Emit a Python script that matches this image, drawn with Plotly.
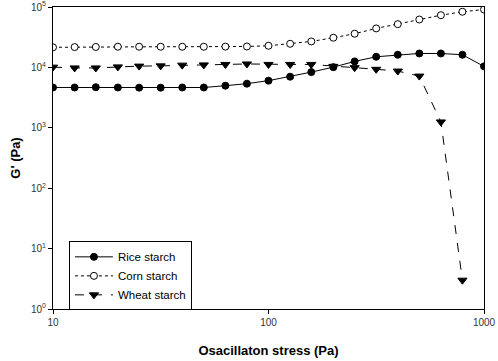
import plotly.graph_objects as go

stress = [10, 12.6, 15.8, 20, 25.1, 31.6, 39.8, 50.1, 63.1, 79.4, 100,
          126, 158, 200, 251, 316, 398, 501, 631, 794, 1000]

rice = [4650, 4650, 4700, 4650, 4620, 4620, 4650, 4650, 4980, 5380, 6030,
        7020, 8360, 10100, 12560, 15000, 16200, 17000, 17000, 16200, 10400]

corn = [21500, 21700, 21800, 22000, 22000, 22000, 22000, 22000, 22100, 22200, 22800,
        24600, 26900, 31000, 36100, 44200, 52000, 62100, 73200, 83400, 90900]

wheat = [10100, 9800, 9800, 10200, 10500, 10600, 10900, 11000, 11200, 11400, 11200,
         11200, 11200, 10400, 9900, 9300, 8700, 7180, 1250, 3.0]

ytick_vals = [1, 10, 100, 1000, 10000, 100000]
ytick_text = ["10<sup>0</sup>", "10<sup>1</sup>", "10<sup>2</sup>",
              "10<sup>3</sup>", "10<sup>4</sup>", "10<sup>5</sup>"]
xtick_vals = [10, 100, 1000]
xtick_text = ["10", "100", "1000"]

fig = go.Figure()
fig.add_trace(go.Scatter(
    x=stress, y=rice, name="Rice starch", mode="lines+markers",
    line=dict(color="black", width=1, dash="solid"),
    marker=dict(symbol="circle", size=7, color="black", line=dict(color="black", width=1))))
fig.add_trace(go.Scatter(
    x=stress, y=corn, name="Corn starch", mode="lines+markers",
    line=dict(color="black", width=1, dash="dot"),
    marker=dict(symbol="circle", size=7, color="white", line=dict(color="black", width=1))))
fig.add_trace(go.Scatter(
    x=stress[:len(wheat)], y=wheat, name="Wheat starch", mode="lines+markers",
    line=dict(color="black", width=1, dash="dash"),
    marker=dict(symbol="triangle-down", size=8, color="black", line=dict(color="black", width=1))))

axis_common = dict(showgrid=False, zeroline=False, showline=True, mirror=True,
                   linecolor="black", linewidth=1, ticks="outside", ticklen=4,
                   tickcolor="black", automargin=False,
                   tickfont=dict(family="Arial", size=10, color="#333"))

fig.update_layout(
    width=498, height=361,
    margin=dict(l=53, r=14, t=7, b=52),
    plot_bgcolor="white", paper_bgcolor="white",
    font=dict(family="Arial", color="black"),
    xaxis=dict(type="log", range=[1, 3], tickvals=xtick_vals, ticktext=xtick_text,
               title=dict(text="<b>Osacillaton stress (Pa)</b>", font=dict(size=13), standoff=18),
               **axis_common),
    yaxis=dict(type="log", range=[0, 5], tickvals=ytick_vals, ticktext=ytick_text,
               title=dict(text="<b>G' (Pa)</b>", font=dict(size=13), standoff=7),
               **axis_common),
    legend=dict(x=0.037, y=0.224, xanchor="left", yanchor="top",
                bgcolor="white", bordercolor="black", borderwidth=1,
                font=dict(family="Arial", size=11.5, color="black"),
                tracegroupgap=0, itemwidth=38),
    showlegend=True,
)

fig.write_html("out.html", config={"displayModeBar": False},
               post_script="document.body.style.margin='0';")
